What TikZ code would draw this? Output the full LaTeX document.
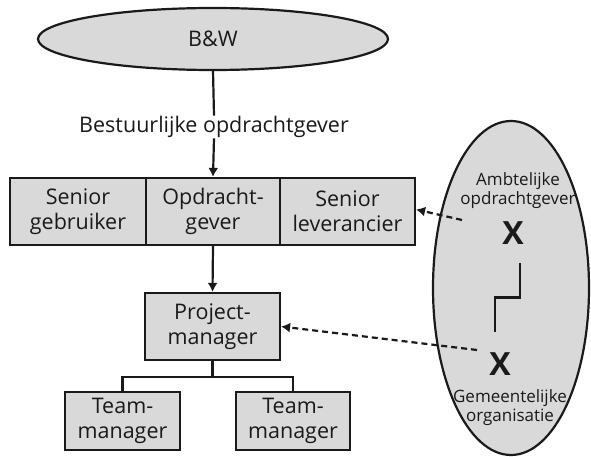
\documentclass[tikz,border=0pt]{standalone}
\usepackage{fontspec}
\setmainfont{Open Sans}
\usetikzlibrary{arrows.meta,shapes.geometric,calc}
\definecolor{boxgray}{HTML}{D9D9D9}
\definecolor{ink}{HTML}{1A1A1A}
\begin{document}
\begin{tikzpicture}[x=1pt,y=-1pt,
  every node/.style={font=\fontsize{21.5}{25}\selectfont,text=ink},
  org/.style={draw=ink,line width=2.2pt,fill=boxgray,align=center,inner sep=0pt},
  link/.style={draw=ink,line width=2.2pt},
  tip/.style={-{Latex[length=9pt,width=10pt]}},
  dashlink/.style={draw=ink,line width=2.2pt,dash pattern=on 6pt off 4pt,-{Latex[length=9pt,width=10pt]}},
  small/.style={font=\fontsize{17}{19}\selectfont,align=center},
  cross/.style={font=\bfseries\fontsize{32}{32}\selectfont}]
\useasboundingbox (0,0) rectangle (591,457);

% top ellipse
\node[org,ellipse,minimum width=350pt,minimum height=62pt] (bw) at (213,39) {B\&W};
\node (bo) at (214,127) {Bestuurlijke opdrachtgever};

% steering board row
\node[org,minimum width=136pt,minimum height=67pt] (sg) at (78,211.5) {Senior\\gebruiker};
\node[org,minimum width=134pt,minimum height=67pt] (og) at (213,211.5) {Opdracht-\\gever};
\node[org,minimum width=135pt,minimum height=67pt] (sl) at (347.5,211.5) {Senior\\leverancier};

% project and team managers
\node[org,minimum width=135pt,minimum height=67pt] (pm) at (212.5,326.5) {Project-\\manager};
\node[org,minimum width=115pt,minimum height=58pt] (tm1) at (122.5,421) {Team-\\manager};
\node[org,minimum width=114pt,minimum height=58pt] (tm2) at (293,421) {Team-\\manager};

% municipal organisation
\node[org,ellipse,minimum width=156pt,minimum height=334pt] (go) at (511,288) {};
\node[small] (ao) at (518,191) {Ambtelijke\\opdrachtgever};
\node[cross] (x1) at (513,233) {X};
\node[cross] (x2) at (500,364) {X};
\node[small] (gm) at (510,408) {Gemeentelijke\\organisatie};
\coordinate (zt) at (520,263);
\coordinate (zb) at (495,332);
\coordinate (d1) at (462,220);
\coordinate (d2) at (477,350);

% connectors
\draw[link] (bw.south) -- ([yshift=-3pt]bo.north);
\draw[link,tip] ([yshift=3pt]bo.south) -- (og.north);
\draw[link,tip] (og.south) -- (pm.north);
\draw[link] (pm.south) -- ++(0,16) coordinate (br)
  (tm1.north) |- (br) -| (tm2.north);
\draw[link] (zt) |- ($(zt)!0.5!(zb)$) -| (zb);
\draw[dashlink] (d1) -- ([yshift=2pt]sl.east);
\draw[dashlink] (d2) -- (pm.east);
\end{tikzpicture}
\end{document}
